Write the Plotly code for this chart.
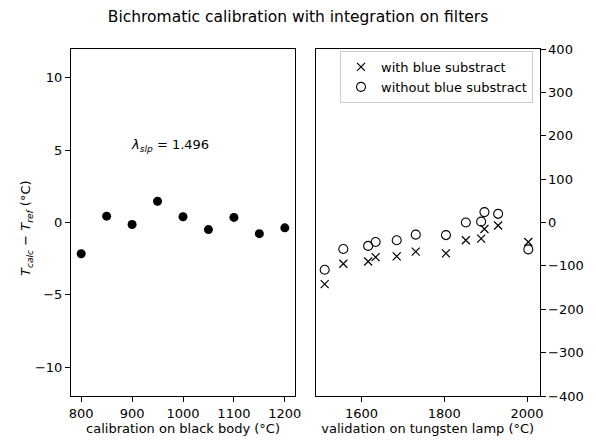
import plotly.graph_objects as go

# Calibration on the black body: temperature error per setpoint
bb_temp = [800, 850, 900, 950, 1000, 1050, 1100, 1150, 1200]
bb_err = [-2.16, 0.44, -0.14, 1.47, 0.40, -0.49, 0.35, -0.77, -0.37]

# Validation on the tungsten lamp
lamp_temp = [1511, 1556, 1616, 1634, 1685, 1731, 1804, 1852, 1889, 1897, 1930, 2003]
err_with_blue = [-142, -95, -90, -80, -78, -67, -71, -41, -37, -15, -7, -45]
err_without_blue = [-109, -61, -54, -45, -41, -28, -29, 0, 2, 24, 20, -62]

lambda_slp = 1.496

FONT = "DejaVu Sans"
W, H = 596, 441

fig = go.Figure()

fig.add_trace(go.Scatter(
    x=bb_temp, y=bb_err, mode="markers", showlegend=False,
    marker=dict(symbol="circle", size=9, color="black"),
    xaxis="x", yaxis="y",
))

fig.add_trace(go.Scatter(
    x=lamp_temp, y=err_with_blue, mode="markers", name="with blue substract",
    marker=dict(symbol="x-thin", size=8, color="black",
                line=dict(color="black", width=1.2)),
    xaxis="x2", yaxis="y2",
))
fig.add_trace(go.Scatter(
    x=lamp_temp, y=err_without_blue, mode="markers", name="without blue substract",
    marker=dict(symbol="circle-open", size=9, color="black",
                line=dict(color="black", width=1.1)),
    xaxis="x2", yaxis="y2",
))

axis_common = dict(
    showgrid=False, zeroline=False, showline=True, linecolor="black",
    linewidth=1, mirror=True, ticks="outside", ticklen=5, tickwidth=1,
    tickcolor="black", tickfont=dict(family=FONT, size=13, color="black"),
    automargin=False,
)

y_top = 1 - 49 / H
y_bot = 1 - 396 / H

fig.update_layout(
    width=W, height=H,
    margin=dict(l=0, r=0, t=0, b=0, autoexpand=False),
    paper_bgcolor="white", plot_bgcolor="white",
    font=dict(family=FONT, size=13, color="black"),
    title=dict(text="Bichromatic calibration with integration on filters",
               x=0.5, xanchor="center", y=1 - 17 / H, yanchor="middle",
               font=dict(family=FONT, size=15.5, color="black")),
    xaxis=dict(axis_common, domain=[71 / W, 295 / W], range=[780, 1220],
               tickvals=[800, 900, 1000, 1100, 1200],
               title=dict(text="calibration on black body (°C)",
                          font=dict(family=FONT, size=13), standoff=4),
               anchor="y"),
    yaxis=dict(axis_common, domain=[y_bot, y_top], range=[-12, 12],
               tickvals=[-10, -5, 0, 5, 10],
               ticktext=["\u221210", "\u22125", "0", "5", "10"],
               anchor="x"),
    xaxis2=dict(axis_common, domain=[316 / W, 539.5 / W], range=[1490, 2030],
                tickvals=[1600, 1800, 2000],
                title=dict(text="validation on tungsten lamp (°C)",
                           font=dict(family=FONT, size=13), standoff=4),
                anchor="y2"),
    yaxis2=dict(axis_common, domain=[y_bot, y_top], range=[-400, 400],
                tickvals=[-400, -300, -200, -100, 0, 100, 200, 300, 400],
                ticktext=["\u2212400", "\u2212300", "\u2212200", "\u2212100", "0",
                          "100", "200", "300", "400"],
                side="right", anchor="x2"),
    legend=dict(x=340 / W, y=1 - 51 / H, xanchor="left", yanchor="top",
                bgcolor="white", bordercolor="#cccccc", borderwidth=1,
                font=dict(family=FONT, size=13, color="black"),
                tracegroupgap=0),
    annotations=[
        dict(
            x=900, y=5.3, xref="x", yref="y", xanchor="left", yanchor="middle",
            xshift=-3,
            text="<i>λ</i><sub><i>slp</i></sub> = %.3f" % lambda_slp,
            showarrow=False, font=dict(family=FONT, size=13, color="black"),
        ),
        # left y-axis title, drawn rotated beside the tick labels
        dict(
            x=26 / W, y=1 - 228 / H, xref="paper", yref="paper",
            xanchor="center", yanchor="middle", textangle=-90,
            text="<i>T</i><sub><i>calc</i></sub> \u2212 <i>T</i><sub><i>ref</i></sub> (°C)",
            showarrow=False, font=dict(family=FONT, size=13, color="black"),
        ),
    ],
)

fig.write_html("out.html")
